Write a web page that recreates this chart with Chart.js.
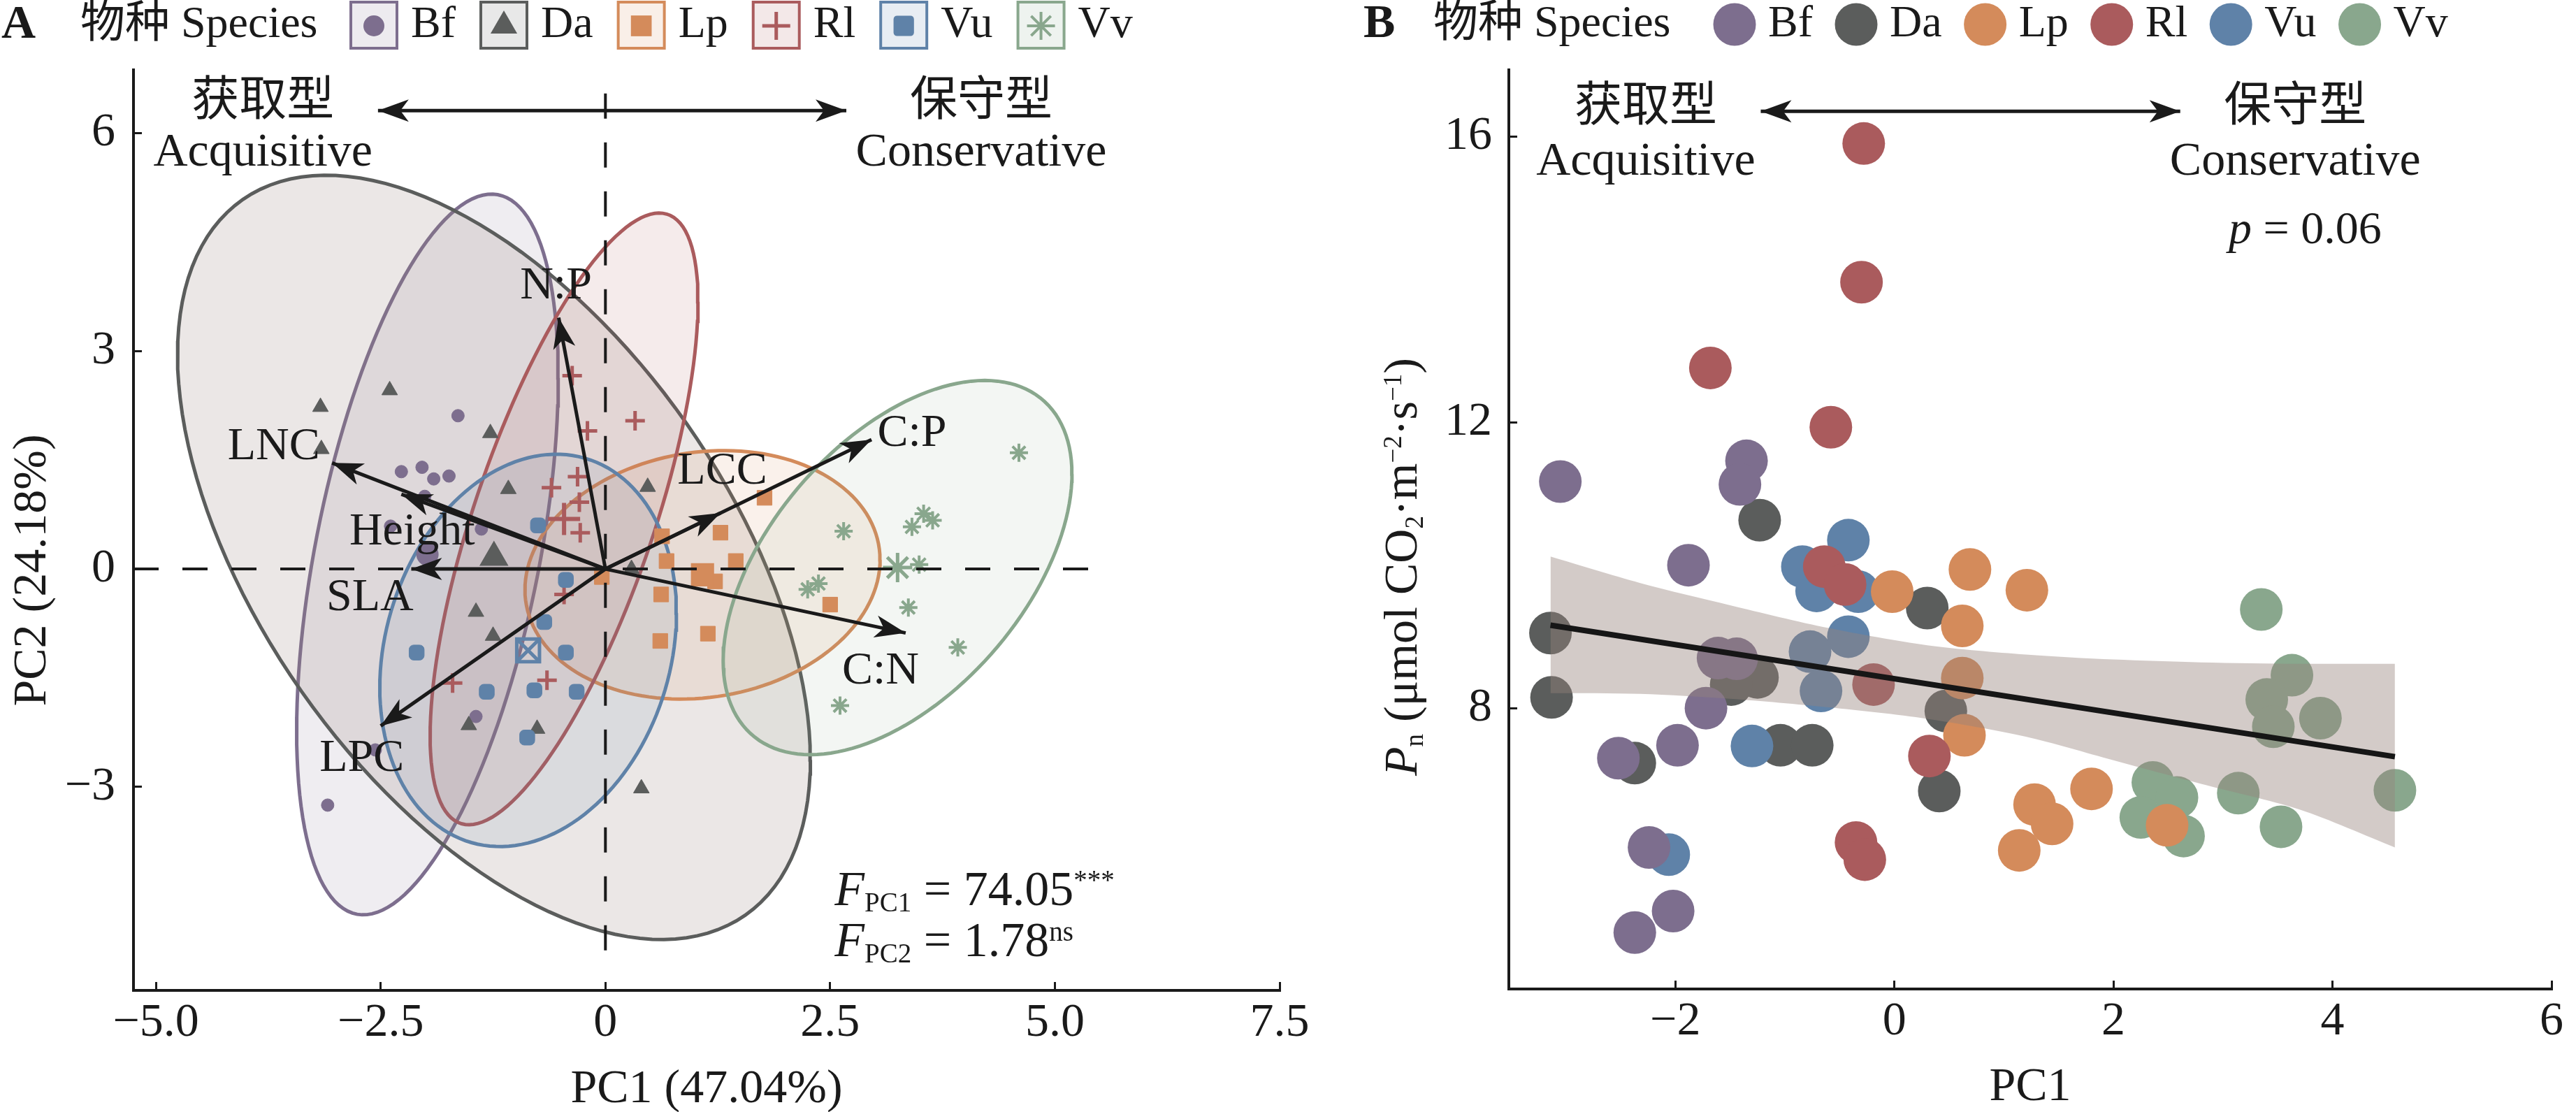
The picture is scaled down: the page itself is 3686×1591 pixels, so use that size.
<!DOCTYPE html>
<html>
<head>
<meta charset="utf-8">
<script src="https://cdn.jsdelivr.net/npm/chart.js@4.4.1/dist/chart.umd.min.js"></script>
<style>
  html, body { margin: 0; padding: 0; background: #fff; overflow: hidden; }
  #wrap { position: relative; width: 3686px; height: 1591px; }
  #chartA { position: absolute; left: 0; top: 0; }
  #chartB { position: absolute; left: 1940px; top: 0; }
</style>
</head>
<body>
<div id="wrap">
  <canvas id="chartA" width="1940" height="1591"></canvas>
  <canvas id="chartB" width="1746" height="1591"></canvas>
</div>
<script>
const FONT = "'Liberation Serif','Noto Sans CJK SC',serif";
const INK = '#1a1a1a';

const species = ['Bf', 'Da', 'Lp', 'Rl', 'Vu', 'Vv'];
const speciesColors = ['#7d6e8e', '#5b5d5c', '#d48b5b', '#aa5b5d', '#5f82a8', '#89a78d'];

// ---- panel A: PCA scores ----
const bfPc1 = [-1.64, -2.27, -2.04, -1.91, -1.74, -2.01, -1.38, -2.39, -1.44, -2.56, -3.09];
const bfPc2 = [2.11, 1.34, 1.40, 1.24, 1.28, 1.00, 0.55, 0.59, -2.03, -2.49, -3.25];
const daPc1 = [-2.40, -3.17, -3.16, -1.28, -1.08, 0.47, 0.29, -1.44, -1.25, -1.52, -0.76, 0.40];
const daPc2 = [2.46, 2.23, 1.65, 1.87, 1.10, 1.13, 0.00, -0.59, -0.92, -2.15, -2.20, -3.02];
const lpPc1 = [1.77, 1.28, 0.63, 0.68, 1.45, 1.22, 0.62, 2.50, 1.14, 0.61, -0.04];
const lpPc2 = [0.98, 0.50, 0.45, 0.11, 0.11, -0.17, -0.35, -0.49, -0.89, -0.99, -0.11];
const rlPc1 = [-0.37, 0.33, -0.20, -0.31, -0.60, -0.29, -0.28, -0.46, -1.70, -0.65];
const rlPc2 = [2.66, 2.04, 1.90, 1.27, 1.12, 0.92, 0.50, -0.35, -1.57, -1.53];
const vuPc1 = [-0.75, -0.44, -0.68, -2.10, -0.44, -1.32, -0.79, -0.32, -0.87];
const vuPc2 = [0.60, -0.15, -0.73, -1.15, -1.15, -1.69, -1.67, -1.69, -2.32];
const vvPc1 = [4.60, 3.54, 3.64, 3.41, 2.65, 3.49, 2.37, 2.25, 3.37, 3.92, 2.61];
const vvPc2 = [1.60, 0.76, 0.67, 0.58, 0.52, 0.06, -0.20, -0.28, -0.53, -1.08, -1.88];

const centroidPc1 = [-1.98, -1.24, 1.08, -0.46, -0.86, 3.25];
const centroidPc2 = [0.20, 0.16, -0.08, 0.69, -1.12, 0.02];
const ellipseHalfX = [1.455, 3.52, 1.975, 1.49, 1.65, 1.94];
const ellipseHalfY = [4.96, 5.26, 1.71, 4.21, 2.70, 2.575];
const ellipseCorr = [0.49, -0.53, 0.12, 0.71, 0.19, 0.50];

const traitNames = ['N:P', 'LNC', 'Height', 'SLA', 'LPC', 'C:P', 'LCC', 'C:N'];
const traitPc1 = [-0.52, -3.04, -2.27, -2.16, -2.50, 2.96, 1.28, 3.34];
const traitPc2 = [3.46, 1.46, 1.03, 0.00, -2.16, 1.78, 0.77, -0.88];

const xTicksA = [-5, -2.5, 0, 2.5, 5, 7.5];
const xTickTextA = ['−5.0', '−2.5', '0', '2.5', '5.0', '7.5'];
const yTicksA = [-3, 0, 3, 6];
const yTickTextA = ['−3', '0', '3', '6'];

// ---- panel B: Pn against PC1 ----
const bfPc1B = [-3.05, -1.35, -1.41, -1.88, -1.61, -1.44, -1.72, -1.98, -2.52, -2.24, -2.02, -2.37];
const bfPn = [11.17, 11.46, 11.13, 10.00, 8.70, 8.69, 8.00, 7.48, 7.30, 6.05, 5.16, 4.86];
const daPc1B = [-1.23, -3.14, -3.13, -1.25, -1.49, 0.30, 0.47, 0.41, -2.37, -1.04, -0.75];
const daPn = [10.63, 9.05, 8.15, 8.43, 8.33, 9.40, 7.96, 6.84, 7.23, 7.48, 7.48];
const lpPc1B = [-0.02, 0.69, 1.21, 0.62, 0.62, 0.64, 1.80, 1.28, 1.44, 1.14, 2.49];
const lpPn = [9.63, 9.94, 9.65, 9.15, 8.42, 7.62, 6.87, 6.65, 6.38, 6.01, 6.36];
const rlPc1B = [-0.28, -0.30, -1.68, -0.58, -0.64, -0.45, -0.19, 0.32, -0.35, -0.27];
const rlPn = [15.90, 13.96, 12.76, 11.93, 9.98, 9.73, 8.33, 7.33, 6.12, 5.88];
const vuPc1B = [-0.42, -0.84, -0.71, -0.33, -0.77, -0.42, -0.67, -1.30, -2.06];
const vuPn = [10.35, 9.98, 9.64, 9.63, 8.79, 9.00, 8.24, 7.47, 5.95];
const vvPc1B = [3.35, 3.63, 3.40, 3.89, 3.46, 2.36, 2.58, 2.25, 2.64, 3.14, 3.53, 4.57];
const vvPn = [9.38, 8.46, 8.12, 7.86, 7.74, 6.96, 6.75, 6.47, 6.21, 6.81, 6.34, 6.85];

const fitPc1 = [-3.14, 4.57];
const fitPn = [9.16, 7.32];
const bandPc1 = [-3.14, -2.32, -1.5, -0.6, 0.3, 1.2, 2.0, 2.8, 3.7, 4.57];
const bandLow = [8.21, 8.20, 8.13, 8.01, 7.85, 7.60, 7.27, 6.94, 6.58, 6.05];
const bandHigh = [10.12, 9.75, 9.44, 9.12, 8.88, 8.75, 8.68, 8.64, 8.62, 8.62];

const xTicksB = [-2, 0, 2, 4, 6];
const xTickTextB = ['−2', '0', '2', '4', '6'];
const yTicksB = [8, 12, 16];
const yTickTextB = ['8', '12', '16'];

// ---- styles ----
const markerStyleA = ['circle', 'triangle', 'rect', 'cross', 'rectRounded', 'star'];
const markerRadiusA = [9, 13, 15, 14, 12.5, 13];
const markerLineA = [1, 1, 1, 5, 1, 4];
const centroidRadiusA = [15, 22, 22, 23, 23, 21];
const legendRadiusA = [15, 22, 21, 20, 17, 20];
const ellipseFills = ['rgba(125,110,142,0.12)', 'rgba(150,125,120,0.19)', 'rgba(212,139,91,0.12)',
  'rgba(170,91,93,0.12)', 'rgba(95,130,168,0.12)', 'rgba(137,167,141,0.1)'];
const drawOrderB = [2, 7, 4, 3, 6, 5];

const pc1A = [bfPc1, daPc1, lpPc1, rlPc1, vuPc1, vvPc1];
const pc2A = [bfPc2, daPc2, lpPc2, rlPc2, vuPc2, vvPc2];
const pc1B = [bfPc1B, daPc1B, lpPc1B, rlPc1B, vuPc1B, vvPc1B];
const pnB = [bfPn, daPn, lpPn, rlPn, vuPn, vvPn];

const pointsOf = (xs, ys) => xs.map((x, j) => ({ x, y: ys[j] }));

function tint(hex, a) {
  const n = parseInt(hex.slice(1), 16);
  return `rgba(${(n >> 16) & 255},${(n >> 8) & 255},${n & 255},${a})`;
}

// confidence ellipse outline from centre, half extents and correlation
function ellipseOutline(i) {
  const k = Math.sqrt(1 - ellipseCorr[i] * ellipseCorr[i]);
  const out = [];
  for (let j = 0; j <= 144; j++) {
    const t = (2 * Math.PI * j) / 144;
    out.push({
      x: centroidPc1[i] + ellipseHalfX[i] * Math.cos(t),
      y: centroidPc2[i] + ellipseHalfY[i] * (ellipseCorr[i] * Math.cos(t) + k * Math.sin(t)),
    });
  }
  return out;
}

function axis(min, max, ticks, texts, size, horizontal, pad) {
  return {
    type: 'linear',
    min,
    max,
    afterFit: (s) => { if (horizontal) s.height = size; else s.width = size; },
    afterBuildTicks: (s) => { s.ticks = ticks.map((v) => ({ value: v })); },
    ticks: {
      autoSkip: false,
      maxRotation: 0,
      minRotation: 0,
      padding: pad,
      color: INK,
      font: { family: FONT, size: 68 },
      callback: (v) => texts[ticks.indexOf(v)],
    },
    grid: {
      drawOnChartArea: false,
      drawTicks: true,
      tickLength: -12,
      color: INK,
      tickColor: INK,
      lineWidth: 3,
      tickWidth: 3,
    },
    border: { display: true, color: INK, width: 4 },
  };
}

function text(ctx, s, x, y, size, align = 'center', base = 'middle', style = '') {
  ctx.font = `${style}${size}px ${FONT}`;
  ctx.textAlign = align;
  ctx.textBaseline = base;
  ctx.fillStyle = INK;
  ctx.fillText(s, x, y);
}

// parts: [text, kind] with kind '', 'i', 'sub', 'sup'
function rich(ctx, parts, x, y, size, align) {
  const fontOf = (p) => {
    const small = p[1] === 'sub' || p[1] === 'sup';
    return `${p[1] === 'i' ? 'italic ' : ''}${small ? Math.round(size * 0.55) : size}px ${FONT}`;
  };
  ctx.textAlign = 'left';
  ctx.textBaseline = 'alphabetic';
  ctx.fillStyle = INK;
  const widths = parts.map((p) => { ctx.font = fontOf(p); return ctx.measureText(p[0]).width; });
  const total = widths.reduce((a, b) => a + b, 0);
  let cx = align === 'center' ? x - total / 2 : x;
  parts.forEach((p, j) => {
    ctx.font = fontOf(p);
    const dy = p[1] === 'sub' ? size * 0.13 : p[1] === 'sup' ? -size * 0.32 : 0;
    ctx.fillText(p[0], cx, y + dy);
    cx += widths[j];
  });
}

function arrowHead(ctx, xs, ys, xt, yt) {
  const a = Math.atan2(yt - ys, xt - xs);
  ctx.save();
  ctx.translate(xt, yt);
  ctx.rotate(a);
  ctx.beginPath();
  ctx.moveTo(0, 0);
  ctx.lineTo(-44, -16);
  ctx.lineTo(-32, 0);
  ctx.lineTo(-44, 16);
  ctx.closePath();
  ctx.fillStyle = INK;
  ctx.fill();
  ctx.restore();
}

function marker(ctx, style, x, y, r, color) {
  ctx.save();
  ctx.fillStyle = color;
  ctx.strokeStyle = color;
  ctx.beginPath();
  if (style === 'circle') {
    ctx.arc(x, y, r, 0, 2 * Math.PI);
    ctx.fill();
  } else if (style === 'triangle') {
    for (let k = 0; k < 3; k++) {
      const a = -Math.PI / 2 + (k * 2 * Math.PI) / 3;
      ctx.lineTo(x + r * Math.cos(a), y + r * Math.sin(a));
    }
    ctx.closePath();
    ctx.fill();
  } else if (style === 'rect') {
    const h = r * Math.SQRT1_2;
    ctx.fillRect(x - h, y - h, 2 * h, 2 * h);
  } else if (style === 'rectRounded') {
    const h = r * 0.86;
    ctx.roundRect(x - h, y - h, 2 * h, 2 * h, r * 0.3);
    ctx.fill();
  } else if (style === 'cross') {
    ctx.lineWidth = 5;
    ctx.moveTo(x - r, y); ctx.lineTo(x + r, y);
    ctx.moveTo(x, y - r); ctx.lineTo(x, y + r);
    ctx.stroke();
  } else if (style === 'star') {
    ctx.lineWidth = 4;
    for (let k = 0; k < 4; k++) {
      const a = (k * Math.PI) / 4;
      ctx.moveTo(x - r * Math.cos(a), y - r * Math.sin(a));
      ctx.lineTo(x + r * Math.cos(a), y + r * Math.sin(a));
    }
    ctx.stroke();
  }
  ctx.restore();
}

Chart.defaults.font.family = FONT;

// ---------------- panel A ----------------
const datasetsA = [];
species.forEach((s, i) => {
  datasetsA.push({
    type: 'line', label: s + ' ellipse', data: ellipseOutline(i),
    borderColor: speciesColors[i], borderWidth: 5, backgroundColor: ellipseFills[i],
    fill: 'shape', pointRadius: 0, tension: 0, order: 20 - i,
  });
});
species.forEach((s, i) => {
  datasetsA.push({
    type: 'scatter', label: s, data: pointsOf(pc1A[i], pc2A[i]),
    pointStyle: markerStyleA[i], pointRadius: markerRadiusA[i],
    backgroundColor: speciesColors[i], borderColor: speciesColors[i], borderWidth: markerLineA[i],
    order: 10 - i,
  });
});
species.forEach((s, i) => {
  const open = s === 'Vu';
  datasetsA.push({
    type: 'scatter', label: s + ' centroid', data: [{ x: centroidPc1[i], y: centroidPc2[i] }],
    pointStyle: open ? 'rect' : markerStyleA[i], pointRadius: centroidRadiusA[i],
    backgroundColor: open ? 'rgba(0,0,0,0)' : speciesColors[i], borderColor: speciesColors[i],
    borderWidth: open ? 5 : markerLineA[i] + 1, order: 3,
  });
});
datasetsA.push({
  type: 'scatter', label: 'Vu centroid x', data: [{ x: centroidPc1[4], y: centroidPc2[4] }],
  pointStyle: 'crossRot', pointRadius: centroidRadiusA[4], borderColor: speciesColors[4], borderWidth: 5, order: 3,
});
datasetsA.push({
  type: 'line', data: [{ x: -5.25, y: 0 }, { x: 5.55, y: 0 }], borderColor: INK, borderWidth: 4,
  borderDash: [36, 34], pointRadius: 0, order: 1,
});
datasetsA.push({
  type: 'line', data: [{ x: 0, y: -5.25 }, { x: 0, y: 6.9 }], borderColor: INK, borderWidth: 4,
  borderDash: [36, 34], pointRadius: 0, order: 1,
});
traitNames.forEach((t, k) => {
  datasetsA.push({
    type: 'line', label: t, data: [{ x: 0, y: 0 }, { x: traitPc1[k], y: traitPc2[k] }],
    borderColor: INK, borderWidth: 5, pointRadius: 0, order: 0,
  });
});
datasetsA.push({
  type: 'line', data: [{ x: -2.53, y: 6.31 }, { x: 2.68, y: 6.31 }],
  borderColor: INK, borderWidth: 5, pointRadius: 0, order: 0,
});

const traitLabelX = [-0.55, -3.69, -2.15, -2.62, -2.71, 3.41, 1.30, 3.06];
const traitLabelY = [3.89, 1.68, 0.50, -0.40, -2.61, 1.86, 1.34, -1.41];

const decorA = {
  id: 'decorA',
  afterDatasetsDraw(chart) {
    const { ctx } = chart;
    const X = (v) => chart.scales.x.getPixelForValue(v);
    const Y = (v) => chart.scales.y.getPixelForValue(v);
    ctx.save();
    traitNames.forEach((t, k) => {
      arrowHead(ctx, X(0), Y(0), X(traitPc1[k]), Y(traitPc2[k]));
      text(ctx, t, X(traitLabelX[k]), Y(traitLabelY[k]), 66);
    });
    arrowHead(ctx, X(2.68), Y(6.31), X(-2.53), Y(6.31));
    arrowHead(ctx, X(-2.53), Y(6.31), X(2.68), Y(6.31));
    text(ctx, '获取型', X(-3.81), Y(6.42), 68);
    text(ctx, 'Acquisitive', X(-3.81), Y(5.72), 68);
    text(ctx, '保守型', X(4.18), Y(6.42), 68);
    text(ctx, 'Conservative', X(4.18), Y(5.72), 68);
    rich(ctx, [['F', 'i'], ['PC1', 'sub'], [' = 74.05', ''], ['***', 'sup']], X(2.55), Y(-4.625), 70, 'left');
    rich(ctx, [['F', 'i'], ['PC2', 'sub'], [' = 1.78', ''], ['ns', 'sup']], X(2.55), Y(-5.33), 70, 'left');
    ctx.restore();
  },
  afterDraw(chart) {
    const { ctx, chartArea } = chart;
    ctx.save();
    text(ctx, 'A', 2, 36, 68, 'left', 'middle', 'bold ');
    text(ctx, '物种 Species', 115, 36, 64, 'left');
    let x = 502;
    species.forEach((s, i) => {
      ctx.fillStyle = tint(speciesColors[i], 0.14);
      ctx.fillRect(x, 3, 66, 66);
      ctx.strokeStyle = speciesColors[i];
      ctx.lineWidth = 4;
      ctx.strokeRect(x, 3, 66, 66);
      marker(ctx, markerStyleA[i], x + 33, 37, legendRadiusA[i], speciesColors[i]);
      text(ctx, s, x + 86, 36, 64, 'left');
      ctx.font = `64px ${FONT}`;
      x += 86 + ctx.measureText(s).width + 36;
    });
    text(ctx, 'PC1 (47.04%)', (chartArea.left + chartArea.right) / 2, 1559, 68);
    ctx.translate(47, 816);
    ctx.rotate(-Math.PI / 2);
    text(ctx, 'PC2 (24.18%)', 0, 0, 68);
    ctx.restore();
  },
};

new Chart(document.getElementById('chartA'), {
  type: 'scatter',
  data: { datasets: datasetsA },
  options: {
    responsive: false,
    devicePixelRatio: 1,
    animation: false,
    events: [],
    layout: { padding: { top: 100, right: 109, left: 0, bottom: 0 } },
    plugins: { legend: { display: false }, tooltip: { enabled: false } },
    scales: {
      x: axis(-5.25, 7.5, xTicksA, xTickTextA, 174, true, 18),
      y: axis(-5.8, 6.87, yTicksA, yTickTextA, 191, false, 38),
    },
  },
  plugins: [decorA],
});

// ---------------- panel B ----------------
const datasetsB = [];
species.forEach((s, i) => {
  datasetsB.push({
    type: 'scatter', label: s, data: pointsOf(pc1B[i], pnB[i]), pointStyle: 'circle',
    pointRadius: 30.5, backgroundColor: speciesColors[i], borderWidth: 0, order: drawOrderB[i],
  });
});
datasetsB.push({
  type: 'line', label: 'ci upper', data: pointsOf(bandPc1, bandHigh), borderColor: 'rgba(0,0,0,0)',
  borderWidth: 0, pointRadius: 0, fill: '+1', backgroundColor: 'rgba(150,130,125,0.42)', tension: 0.3, order: 1,
});
datasetsB.push({
  type: 'line', label: 'ci lower', data: pointsOf(bandPc1, bandLow), borderColor: 'rgba(0,0,0,0)',
  borderWidth: 0, pointRadius: 0, fill: false, tension: 0.3, order: 1,
});
datasetsB.push({
  type: 'line', label: 'fit', data: pointsOf(fitPc1, fitPn), borderColor: '#161616',
  borderWidth: 8, pointRadius: 0, order: 0,
});
datasetsB.push({
  type: 'line', data: [{ x: -1.22, y: 16.35 }, { x: 2.61, y: 16.35 }],
  borderColor: INK, borderWidth: 5, pointRadius: 0, order: 0,
});

const decorB = {
  id: 'decorB',
  afterDatasetsDraw(chart) {
    const { ctx } = chart;
    const X = (v) => chart.scales.x.getPixelForValue(v);
    const Y = (v) => chart.scales.y.getPixelForValue(v);
    ctx.save();
    arrowHead(ctx, X(2.61), Y(16.35), X(-1.22), Y(16.35));
    arrowHead(ctx, X(-1.22), Y(16.35), X(2.61), Y(16.35));
    text(ctx, '获取型', X(-2.27), Y(16.39), 68);
    text(ctx, 'Acquisitive', X(-2.27), Y(15.64), 68);
    text(ctx, '保守型', X(3.66), Y(16.39), 68);
    text(ctx, 'Conservative', X(3.66), Y(15.64), 68);
    rich(ctx, [['p', 'i'], [' = 0.06', '']], X(3.75), Y(14.72) + 22, 66, 'center');
    ctx.restore();
  },
  afterDraw(chart) {
    const { ctx, chartArea } = chart;
    ctx.save();
    text(ctx, 'B', 11, 35, 68, 'left', 'middle', 'bold ');
    text(ctx, '物种 Species', 111, 35, 64, 'left');
    let x = 542;
    species.forEach((s, i) => {
      ctx.beginPath();
      ctx.arc(x, 35, 30.5, 0, 2 * Math.PI);
      ctx.fillStyle = speciesColors[i];
      ctx.fill();
      text(ctx, s, x + 48, 35, 64, 'left');
      ctx.font = `64px ${FONT}`;
      x += 48 + ctx.measureText(s).width + 62;
    });
    text(ctx, 'PC1', (chartArea.left + chartArea.right) / 2, 1556, 68);
    ctx.translate(64, 811);
    ctx.rotate(-Math.PI / 2);
    rich(ctx, [['P', 'i'], ['n', 'sub'], [' (μmol CO', ''], ['2', 'sub'], ['·m', ''], ['−2', 'sup'],
      ['·s', ''], ['−1', 'sup'], [')', '']], 0, 23, 68, 'center');
    ctx.restore();
  },
};

new Chart(document.getElementById('chartB'), {
  type: 'scatter',
  data: { datasets: datasetsB },
  options: {
    responsive: false,
    devicePixelRatio: 1,
    animation: false,
    events: [],
    layout: { padding: { top: 100, right: 13, left: 0, bottom: 0 } },
    plugins: { legend: { display: false }, tooltip: { enabled: false } },
    scales: {
      x: axis(-3.52, 6, xTicksB, xTickTextB, 176, true, 18),
      y: axis(4.07, 16.93, yTicksB, yTickTextB, 219, false, 36),
    },
  },
  plugins: [decorB],
});
</script>
</body>
</html>
